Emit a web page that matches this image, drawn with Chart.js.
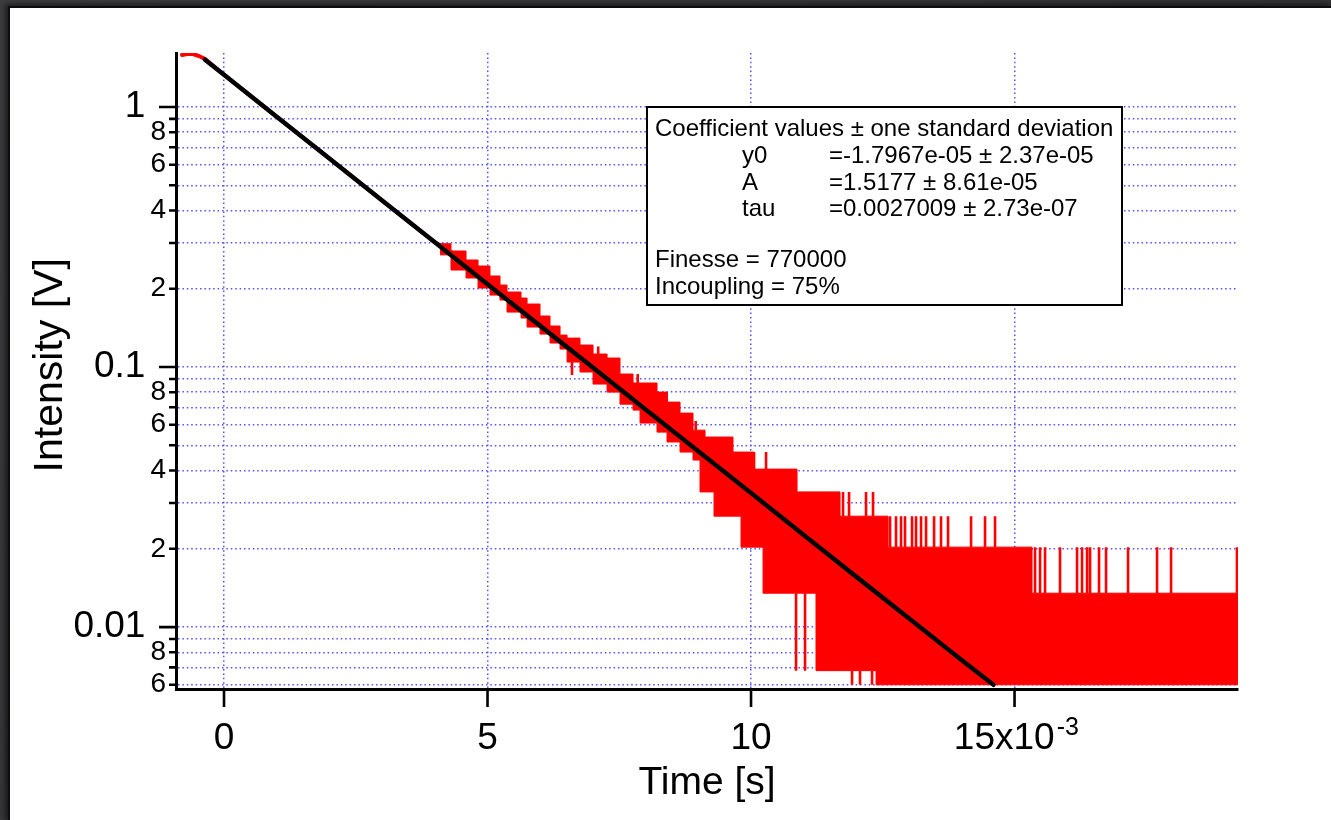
<!DOCTYPE html>
<html>
<head>
<meta charset="utf-8">
<title>Ring-down decay</title>
<script src="https://cdn.jsdelivr.net/npm/chart.js@4.4.1/dist/chart.umd.min.js"></script>
<style>
  html, body { margin: 0; padding: 0; }
  body { width: 1331px; height: 820px; overflow: hidden; position: relative;
         background: linear-gradient(135deg, #3d3d3f 0%, #2c2c2e 100%); }
  #panel { position: absolute; left: 10px; top: 8px; width: 1321px; height: 812px;
           background: #fff; box-shadow: 0 0 0 2px #0d0d0f, -3px -2px 5px 2px rgba(0,0,0,0.55); }
  canvas { display: block; }
</style>
</head>
<body>
<div id="panel"><canvas id="decay" width="1321" height="812"></canvas></div>
<script>
const FONT = '"Liberation Sans", Arial, Helvetica, sans-serif';

// Exponential fit curve (time in s, intensity in V)
const fitT = [-0.36e-3, 0, 1e-3, 2e-3, 3e-3, 4e-3, 5e-3, 6e-3, 7e-3, 8e-3, 9e-3,
              10e-3, 11e-3, 12e-3, 13e-3, 14e-3, 14.6e-3];
const fitV = [1.52, 1.33, 0.917, 0.634, 0.437, 0.302, 0.208, 0.144, 0.0995, 0.0687, 0.0474,
              0.0328, 0.0226, 0.0156, 0.0108, 0.00745, 0.0060];

// Start of the measured trace, where it is still a thin line
const headT = [-0.797e-3, -0.702e-3, -0.588e-3, -0.474e-3, -0.361e-3, 0, 1e-3,
               2e-3, 3e-3, 4e-3, 4.4e-3];
const headV = [1.585, 1.599, 1.599, 1.571, 1.530, 1.33, 0.917, 0.634, 0.437, 0.302, 0.270];

// Noise band of the measured trace: level held from each time to the next
const bandT = [4.099e-3, 4.307e-3, 4.592e-3, 4.820e-3, 5.047e-3, 5.237e-3, 5.370e-3, 5.636e-3,
               5.750e-3, 5.996e-3, 6.186e-3, 6.376e-3, 6.509e-3, 6.755e-3, 7.002e-3, 7.268e-3,
               7.514e-3, 7.761e-3, 7.894e-3, 8.216e-3, 8.406e-3, 8.653e-3, 8.899e-3, 9.032e-3,
               9.127e-3, 9.298e-3, 9.658e-3, 9.810e-3, 10.057e-3, 10.228e-3, 10.873e-3, 11.233e-3,
               11.689e-3, 12.372e-3, 12.600e-3, 15.332e-3, 19.24e-3];
const bandHi = [0.2980, 0.2794, 0.2580, 0.2446, 0.2239, 0.2067, 0.1943, 0.1842,
                0.1747, 0.1571, 0.1438, 0.1327, 0.1292, 0.1215, 0.1122, 0.1083,
                0.0940, 0.0868, 0.0868, 0.0801, 0.0733, 0.0665, 0.0572, 0.0572,
                0.0538, 0.0538, 0.0471, 0.0471, 0.0405, 0.0405, 0.0331, 0.0331,
                0.0267, 0.0267, 0.0203, 0.0135, 0.0135];
const bandLo = [0.2700, 0.2361, 0.2200, 0.2013, 0.1891, 0.1810, 0.1627, 0.1543,
                0.1425, 0.1339, 0.1237, 0.1173, 0.1045, 0.0957, 0.0860, 0.0801,
                0.0720, 0.0683, 0.0609, 0.0562, 0.0515, 0.0471, 0.0439, 0.0331,
                0.0331, 0.0267, 0.0267, 0.0203, 0.0203, 0.0135, 0.0135, 0.0068,
                0.0068, 0.0060, 0.0060, 0.0060, 0.0060];

// Single-sample excursions of the trace (vertical strokes)
const spikeT = [6.603e-3, 7.10e-3, 7.85e-3, 8.40e-3, 8.95e-3,
                10.057e-3, 10.285e-3, 10.854e-3, 11.025e-3, 11.746e-3, 11.860e-3,
                11.917e-3, 12.068e-3, 12.182e-3, 12.296e-3, 12.315e-3,
                12.638e-3, 12.751e-3, 12.846e-3, 12.922e-3, 13.055e-3, 13.131e-3, 13.226e-3,
                13.321e-3, 13.473e-3, 13.605e-3, 13.738e-3, 14.175e-3, 14.440e-3, 14.630e-3,
                15.389e-3, 15.484e-3, 15.579e-3, 15.863e-3, 16.186e-3, 16.281e-3, 16.376e-3,
                16.433e-3, 16.603e-3, 16.736e-3, 17.154e-3, 17.704e-3, 17.970e-3, 19.22e-3];
const spikeLo = [0.0931, 0.1122, 0.0868, 0.0733, 0.0572,
                 0.0405, 0.0405, 0.0068, 0.0068, 0.0267, 0.0267,
                 0.0060, 0.0060, 0.0267, 0.0060, 0.0267,
                 0.0203, 0.0203, 0.0203, 0.0203, 0.0203, 0.0203, 0.0203,
                 0.0203, 0.0203, 0.0203, 0.0203, 0.0203, 0.0203, 0.0203,
                 0.0135, 0.0135, 0.0135, 0.0135, 0.0135, 0.0135, 0.0135,
                 0.0135, 0.0135, 0.0135, 0.0135, 0.0135, 0.0135, 0.0135];
const spikeHi = [0.1045, 0.1200, 0.0940, 0.0801, 0.0620,
                 0.0471, 0.0471, 0.0135, 0.0135, 0.0331, 0.0331,
                 0.0068, 0.0068, 0.0331, 0.0068, 0.0331,
                 0.0267, 0.0267, 0.0267, 0.0267, 0.0267, 0.0267, 0.0267,
                 0.0267, 0.0267, 0.0267, 0.0267, 0.0267, 0.0267, 0.0267,
                 0.0203, 0.0203, 0.0203, 0.0203, 0.0203, 0.0203, 0.0203,
                 0.0203, 0.0203, 0.0203, 0.0203, 0.0203, 0.0203, 0.0203];

// Axes
const xTicks = [0, 0.005, 0.010, 0.015];
const xTickLabels = ['0', '5', '10', '15x10'];
const yTicks = [0.006, 0.007, 0.008, 0.009,
                0.01, 0.02, 0.03, 0.04, 0.05, 0.06, 0.07, 0.08, 0.09,
                0.1, 0.2, 0.3, 0.4, 0.5, 0.6, 0.7, 0.8, 0.9, 1];
const yTickLabels = ['6', '', '8', '',
                     '0.01', '2', '', '4', '', '6', '', '8', '',
                     '0.1', '2', '', '4', '', '6', '', '8', '', '1'];
const yMajor = [0.01, 0.1, 1];

// Fit result text
const coefTitle = 'Coefficient values \u00b1 one standard deviation';
const coefRows = [
  ['y0', '=-1.7967e-05 \u00b1 2.37e-05'],
  ['A', '=1.5177 \u00b1 8.61e-05'],
  ['tau', '=0.0027009 \u00b1 2.73e-07']
];
const notes = ['Finesse = 770000', 'Incoupling = 75%'];

const RED = '#ff0000';
const GRID = '#5252ff';

function pts(xs, ys) {
  return xs.map((x, i) => ({ x: x, y: ys[i] }));
}

function spikePts() {
  const out = [];
  spikeT.forEach((t, i) => {
    out.push({ x: t, y: spikeLo[i] }, { x: t, y: spikeHi[i] }, { x: t, y: null });
  });
  return out;
}

// tick marks, exponent of the last time label, fit result box
const decorations = {
  id: 'decorations',
  afterDatasetsDraw(chart) {
    const ctx = chart.ctx;
    const bx = 637, by = 99, bw = 475, bh = 198;
    ctx.save();
    ctx.fillStyle = '#fff';
    ctx.fillRect(bx, by, bw, bh);
    ctx.strokeStyle = '#000';
    ctx.lineWidth = 2;
    ctx.strokeRect(bx, by, bw, bh);
    ctx.fillStyle = '#000';
    ctx.font = '24px ' + FONT;
    ctx.textBaseline = 'alphabetic';
    ctx.textAlign = 'left';
    ctx.fillText(coefTitle, 645, 128);
    coefRows.forEach((r, i) => {
      const yy = 155 + i * 26.5;
      ctx.fillText(r[0], 732, yy);
      ctx.fillText(r[1], 819, yy);
    });
    notes.forEach((n, i) => ctx.fillText(n, 645, 259 + i * 27));
    ctx.restore();
  },
  afterDraw(chart) {
    const { ctx, chartArea: a, scales: { x, y } } = chart;
    ctx.save();
    ctx.strokeStyle = '#000';
    ctx.lineWidth = 2.6;
    ctx.beginPath();
    y.ticks.forEach(t => {
      const py = y.getPixelForValue(t.value);
      const len = yMajor.includes(t.value) ? 17 : 7;
      ctx.moveTo(a.left - len, py);
      ctx.lineTo(a.left, py);
    });
    x.ticks.forEach(t => {
      const px = x.getPixelForValue(t.value);
      ctx.moveTo(px, a.bottom);
      ctx.lineTo(px, a.bottom + 18);
    });
    ctx.stroke();

    // "-3" exponent after the last time label
    const last = x.ticks[x.ticks.length - 1];
    const px = x.getPixelForValue(last.value);
    ctx.font = '37px ' + FONT;
    const full = ctx.measureText(xTickLabels[3] + '  ').width;
    const base = ctx.measureText(xTickLabels[3]).width;
    ctx.font = '25px ' + FONT;
    ctx.fillStyle = '#000';
    ctx.textAlign = 'left';
    ctx.textBaseline = 'alphabetic';
    ctx.fillText('-3', px - full / 2 + base + 2, a.bottom + 46);
    ctx.restore();
  }
};

new Chart(document.getElementById('decay'), {
  type: 'scatter',
  data: {
    datasets: [
      { data: pts(fitT, fitV), showLine: true, borderColor: '#000', borderWidth: 4.5,
        pointRadius: 0, borderJoinStyle: 'round', borderCapStyle: 'round' },
      { data: pts(headT, headV), showLine: true, borderColor: RED, borderWidth: 4,
        pointRadius: 0, borderCapStyle: 'round' },
      { data: spikePts(), showLine: true, borderColor: RED, borderWidth: 2.6,
        pointRadius: 0, spanGaps: false },
      { data: pts(bandT, bandHi), showLine: true, stepped: true, borderColor: RED,
        borderWidth: 1, pointRadius: 0, backgroundColor: RED, fill: '+1' },
      { data: pts(bandT, bandLo), showLine: true, stepped: true, borderColor: RED,
        borderWidth: 1, pointRadius: 0 }
    ]
  },
  options: {
    responsive: false,
    animation: false,
    devicePixelRatio: 1,
    layout: { padding: { top: 45, right: 93, left: 0, bottom: 0 } },
    plugins: { legend: { display: false }, tooltip: { enabled: false } },
    scales: {
      x: {
        type: 'linear',
        min: -0.000911,
        max: 0.01924,
        afterBuildTicks: s => { s.ticks = xTicks.map(v => ({ value: v })); },
        afterFit: s => { s.height = 131; },
        grid: { color: GRID, lineWidth: 1.5, drawTicks: false },
        border: { display: true, color: '#000', width: 3, dash: [1.5, 2.9] },
        ticks: {
          autoSkip: false, maxRotation: 0, padding: 28, color: '#000',
          font: { family: FONT, size: 37 },
          callback: (v, i) => i === xTicks.length - 1 ? xTickLabels[i] + '  ' : xTickLabels[i]
        },
        title: { display: true, text: 'Time [s]', color: '#000',
                 font: { family: FONT, size: 39 }, padding: { top: 0, bottom: 13 } }
      },
      y: {
        type: 'logarithmic',
        min: 0.00578,
        max: 1.613,
        afterBuildTicks: s => { s.ticks = yTicks.map(v => ({ value: v })); },
        afterFit: s => { s.width = 166; },
        grid: { color: GRID, lineWidth: 1.5, drawTicks: false },
        border: { display: true, color: '#000', width: 3, dash: [1.5, 2.9] },
        ticks: {
          autoSkip: false, padding: 10, color: '#000',
          font: c => ({ family: FONT, size: yMajor.includes(c.tick && c.tick.value) ? 37 : 28 }),
          callback: (v, i) => yMajor.includes(yTicks[i]) ? yTickLabels[i] + '  ' : yTickLabels[i]
        },
        title: { display: true, text: ' Intensity [V]', color: '#000',
                 font: { family: FONT, size: 41 }, padding: { top: 16, bottom: 0 } }
      }
    }
  },
  plugins: [decorations]
});
</script>
</body>
</html>
